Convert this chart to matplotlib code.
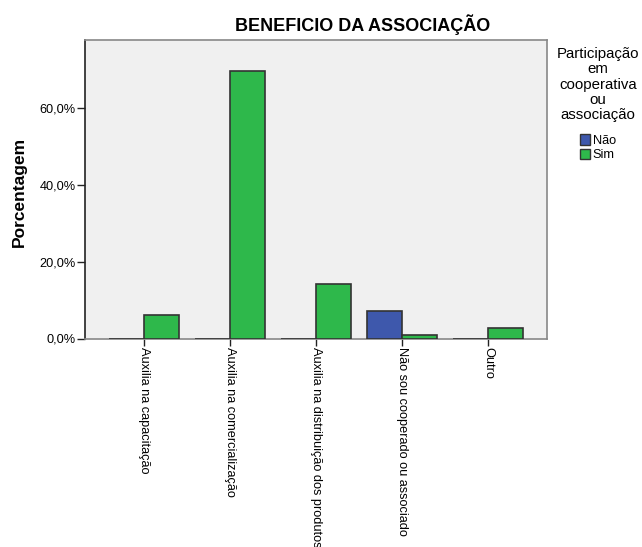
import numpy as np
import matplotlib
matplotlib.use("Agg")
import matplotlib.pyplot as plt
from matplotlib.patches import Patch
from matplotlib.ticker import FuncFormatter

plt.rcParams['font.family'] = ['Liberation Sans', 'DejaVu Sans']

categories = [
    "Auxilia na capacitação",
    "Auxilia na comercialização",
    "Auxilia na distribuição dos produtos",
    "Não sou cooperado ou associado",
    "Outro",
]
nao = [0.0, 0.0, 0.0, 7.1, 0.0]
sim = [6.2, 69.6, 14.1, 1.0, 2.8]
y_ticks = [0, 20, 40, 60]

blue = "#3E58AC"
green = "#2EB84B"
edge = "#333333"

fig = plt.figure(figsize=(6.42, 5.47), dpi=100)
ax = fig.add_axes([85.5 / 642, 1 - 338.5 / 547, (546.5 - 85.5) / 642, (338.5 - 39.5) / 547])
ax.set_facecolor("#F0F0F0")

x = np.arange(len(categories))
w = 0.405
ax.bar(x - w / 2, nao, width=w, color=blue, edgecolor=edge, linewidth=1.2, zorder=3)
ax.bar(x + w / 2, sim, width=w, color=green, edgecolor=edge, linewidth=1.2, zorder=3)

ax.set_xlim(-0.675, len(categories) - 1 + 0.675)
ax.set_ylim(0, 77.7)

ax.set_yticks(y_ticks)
ax.yaxis.set_major_formatter(FuncFormatter(lambda v, p: f"{v:.1f}%".replace(".", ",")))
ax.tick_params(axis="y", length=6, width=1, color="#222222", labelsize=9.2, pad=1)

ax.set_xticks(x)
ax.set_xticklabels(categories, fontsize=9.2)
ax.tick_params(axis="x", length=5, width=1, color="#222222", pad=1)
for lab in ax.get_xticklabels():
    lab.set_rotation(270)
    lab.set_horizontalalignment("left")
    lab.set_verticalalignment("center")
    lab.set_rotation_mode("anchor")

ax.spines["left"].set_color("#222222")
ax.spines["left"].set_linewidth(1.2)
for s in ["top", "right", "bottom"]:
    ax.spines[s].set_color("#888888")
    ax.spines[s].set_linewidth(1.2)

ax.set_ylabel("Porcentagem", fontsize=12.5, fontweight="bold")
ax.yaxis.set_label_coords((27 - 85.5) / 461, 0.49)

fig.text(363 / 642, 1 - 25 / 547, "BENEFICIO DA ASSOCIAÇÃO", ha="center", va="center",
         fontsize=13, fontweight="bold")

handles = [Patch(facecolor=blue, edgecolor=edge, linewidth=1.0, label="Não"),
           Patch(facecolor=green, edgecolor=edge, linewidth=1.0, label="Sim")]
leg = fig.legend(handles=handles, title="Participação\nem\ncooperativa\nou\nassociação",
                 loc="upper center", bbox_to_anchor=(598 / 642, 1 - 41 / 547),
                 frameon=False, fontsize=9.2, title_fontsize=10.8,
                 handlelength=0.8, handleheight=0.9, handletextpad=0.2,
                 labelspacing=0.12, borderpad=0.0)
leg.get_title().set_multialignment("center")
leg.get_title().set_linespacing(1.1)
leg._legend_box.sep = 9

fig.savefig("out.png", dpi=100)
